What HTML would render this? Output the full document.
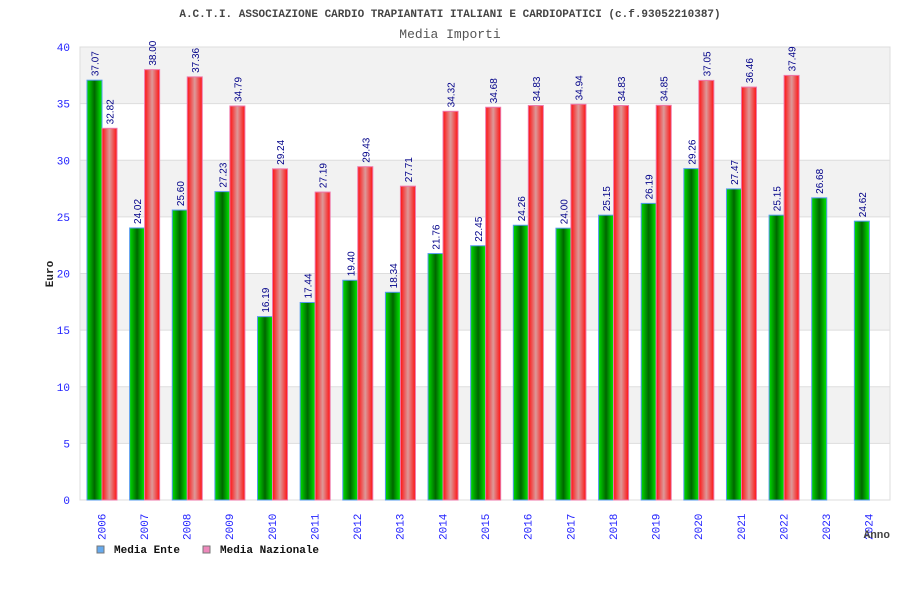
<!DOCTYPE html>
<html><head><meta charset="utf-8"><style>
body{margin:0;background:#fff;width:900px;height:600px;overflow:hidden}
svg{display:block}
</style></head><body>
<svg id="chart" width="900" height="600" xmlns="http://www.w3.org/2000/svg">
<defs>
<linearGradient id="gg" x1="0" x2="1" y1="0" y2="0"><stop offset="0" stop-color="#00dd00"/><stop offset="0.5" stop-color="#006600"/><stop offset="1" stop-color="#00ee00"/></linearGradient>
<linearGradient id="rg" x1="0" x2="1" y1="0" y2="0"><stop offset="0" stop-color="#ff1111"/><stop offset="0.5" stop-color="#dd9999"/><stop offset="1" stop-color="#ff1111"/></linearGradient>
</defs>
<text x="450" y="17" text-anchor="middle" font-family="Liberation Mono, monospace" font-size="11" font-weight="bold" fill="#444">A.C.T.I. ASSOCIAZIONE CARDIO TRAPIANTATI ITALIANI E CARDIOPATICI (c.f.93052210387)</text>
<text x="450" y="38" text-anchor="middle" font-family="Liberation Mono, monospace" font-size="13" fill="#555">Media Importi</text>
<g id="grid"></g><g id="bars"></g><g id="axes"></g>
<text x="53" y="274" text-anchor="middle" transform="rotate(-90 53 274)" font-family="Liberation Mono, monospace" font-size="11" font-weight="bold" fill="#222">Euro</text>
<text x="890" y="538" text-anchor="end" font-family="Liberation Mono, monospace" font-size="11" font-weight="bold" fill="#444">Anno</text>
<g>
<rect x="97" y="546" width="7" height="7" fill="#66aaee" stroke="#777"/>
<text x="114" y="553" font-family="Liberation Mono, monospace" font-size="11" font-weight="bold" fill="#111">Media Ente</text>
<rect x="203" y="546" width="7" height="7" fill="#ee88bb" stroke="#777"/>
<text x="220" y="553" font-family="Liberation Mono, monospace" font-size="11" font-weight="bold" fill="#111">Media Nazionale</text>
</g>
</svg>
<script>
const years=["2006","2007","2008","2009","2010","2011","2012","2013","2014","2015","2016","2017","2018","2019","2020","2021","2022","2023","2024"];
const ente=[37.07,24.02,25.60,27.23,16.19,17.44,19.40,18.34,21.76,22.45,24.26,24.00,25.15,26.19,29.26,27.47,25.15,26.68,24.62];
const nazionale=[32.82,38.00,37.36,34.79,29.24,27.19,29.43,27.71,34.32,34.68,34.83,34.94,34.83,34.85,37.05,36.46,37.49,null,null];
const yTicks=[0,5,10,15,20,25,30,35,40];
const NS="http://www.w3.org/2000/svg";
const L=80,R=890,T=47,B=500,YMAX=40;
const y=v=>B-(v/YMAX)*(B-T);
const gw=(R-L)/years.length;
const x=i=>L+i*gw;
function mk(tag,attrs,parent){const e=document.createElementNS(NS,tag);for(const k in attrs)e.setAttribute(k,attrs[k]);parent.appendChild(e);return e;}
const grid=document.getElementById('grid'),bars=document.getElementById('bars'),axes=document.getElementById('axes');
for(let k=0;k<yTicks.length-1;k++){
  if(k%2===1){const r=mk('rect',{x:L,y:y(yTicks[k+1]),width:R-L,height:y(yTicks[k])-y(yTicks[k+1]),fill:'#f2f2f2'},grid);
  
  }
}
yTicks.forEach(t=>{
  const l=mk('line',{x1:L,x2:R,y1:y(t),y2:y(t),stroke:'#dddddd','stroke-width':1},grid);
  
  
  const tx=mk('text',{x:70,y:y(t)+4,'text-anchor':'end','font-family':'Liberation Mono, monospace','font-size':11,fill:'#2222ff'},axes);
  tx.textContent=t;
  
  
});
const fr=mk('rect',{x:L,y:T,width:R-L,height:B-T,fill:'none',stroke:'#dddddd'},grid);


function label(cx,v,parent){
  const t=mk('text',{x:cx+4,y:y(v)-4,transform:`rotate(-90 ${cx+4} ${y(v)-4})`,'font-family':'Liberation Sans, sans-serif','font-size':10,fill:'#000088'},parent);
  t.textContent=v.toFixed(2);
  
  
}
years.forEach((yr,i)=>{
  const x0=x(i)+7;
  const v=ente[i];
  const b=mk('rect',{x:x0,y:y(v),width:15,height:B-y(v),fill:'url(#gg)',stroke:'#5599ee','stroke-width':1},bars);
  
  
  label(x0+7.5,v,bars);
  const n=nazionale[i];
  if(n!=null){
    const r=mk('rect',{x:x0+15,y:y(n),width:15,height:B-y(n),fill:'url(#rg)',stroke:'#ee77aa','stroke-width':1},bars);
    
    
    label(x0+22.5,n,bars);
  }
  const cx=x(i)+gw/2;
  const t=mk('text',{x:cx+4,y:540,'text-anchor':'start',transform:`rotate(-90 ${cx+4} 540)`,'font-family':'Liberation Mono, monospace','font-size':11,fill:'#2222ff'},axes);
  t.textContent=yr;
  
  
});
</script>
</body></html>
